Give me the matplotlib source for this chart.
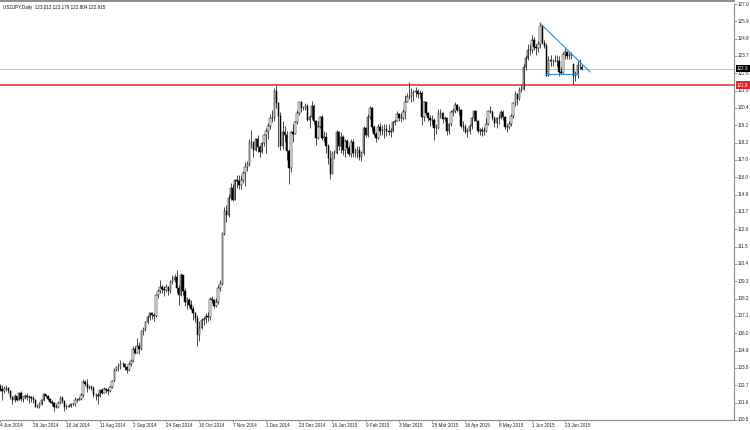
import matplotlib
matplotlib.use("Agg")
import matplotlib.pyplot as plt
import matplotlib.transforms as mtransforms
import numpy as np
import pandas as pd

# USDJPY daily bars, 4 Jun 2014 .. 3 Jul 2015 (broker has no bar on 25 Dec / 1 Jan)
opens = [
    # Jun 2014
    102.70, 102.45, 102.35, 102.45, 102.55, 102.35, 101.95, 101.75, 102.00, 101.80,
    102.20, 101.85, 101.95, 102.05, 101.95, 101.95, 101.90, 101.75, 101.35,
    # Jul 2014
    101.30, 101.55, 101.75, 102.15, 102.05, 101.85, 101.65, 101.60, 101.35, 101.35,
    101.60, 101.90, 101.70, 101.30, 101.35, 101.40, 101.50, 101.50, 101.80, 101.80,
    101.85, 102.10, 102.95,
    # Aug 2014
    102.80, 102.55, 102.60, 102.55, 102.10, 102.10, 102.00, 102.40, 102.25, 102.45,
    102.40, 102.35, 102.60, 103.00, 103.70, 103.85, 103.85, 104.05, 104.05, 103.85,
    103.70,
    # Sep 2014
    104.10, 104.25, 105.05, 104.80, 105.25, 105.05, 106.15, 106.30, 106.75, 107.10,
    107.35, 107.20, 107.15, 108.45, 108.70, 109.00, 108.85, 108.80, 109.00, 108.70,
    109.30, 109.45,
    # Oct 2014
    109.65, 108.90, 108.45, 109.75, 108.75, 108.05, 108.15, 107.85, 107.60, 107.35,
    107.00, 105.95, 106.35, 106.85, 106.95, 107.15, 107.05, 108.20, 108.15, 107.80,
    108.05, 108.95, 109.20,
    # Nov 2014
    112.35, 113.85, 113.55, 114.65, 115.30, 114.55, 115.80, 115.75, 115.50, 115.80,
    116.25, 116.65, 116.80, 118.20, 118.25, 117.75, 118.40, 117.90, 117.60, 118.15,
    # Dec 2014
    118.65, 118.90, 119.25, 119.75, 119.75, 121.45, 120.70, 119.90, 117.95, 118.85,
    118.70, 117.65, 116.60, 118.85, 118.75, 119.50, 120.10, 120.75, 120.40, 120.40,
    120.55, 119.65,
    # Jan 2015
    119.80, 120.50, 119.55, 118.50, 119.20, 119.80, 118.50, 118.55, 118.00, 117.20,
    116.20, 117.55, 117.50, 118.85, 117.95, 118.55, 117.75, 118.30, 117.85, 117.45,
    118.25,
    # Feb 2015
    117.50, 117.55, 117.70, 117.25, 117.50, 119.10, 118.65, 119.85, 120.40, 119.20,
    118.75, 118.50, 119.20, 118.90, 118.95, 119.05, 118.95, 118.85, 118.95, 119.50,
    # Mar 2015
    119.60, 120.00, 119.75, 119.75, 120.15, 120.80, 121.10, 121.15, 121.35, 121.40,
    121.45, 121.30, 121.35, 119.80, 120.75, 120.05, 119.75, 119.65, 119.65, 119.15,
    119.15, 120.10,
    # Apr 2015
    120.10, 119.70, 119.75, 118.95, 119.35, 120.15, 120.20, 120.60, 120.25, 120.30,
    119.25, 119.20, 118.85, 118.90, 119.25, 119.75, 120.20, 119.60, 118.95, 119.00,
    118.90, 118.90,
    # May 2015
    119.40, 120.20, 120.15, 119.75, 119.45, 119.75, 119.75, 120.15, 119.85, 119.20,
    119.20, 119.35, 119.90, 120.70, 121.30, 120.95, 121.55, 121.60, 123.00, 123.60,
    124.10,
    # Jun 2015
    124.10, 124.75, 124.30, 124.25, 124.50, 125.60, 124.55, 124.35, 122.45, 123.45,
    123.40, 123.40, 123.40, 123.40, 122.70, 122.65, 123.85, 123.95, 123.70, 123.80,
    123.20, 122.45,
    # Jul 2015
    122.50, 123.15, 123.012,
]
highs = [
    102.80, 102.75, 102.70, 102.75, 102.60, 102.40, 102.05, 102.15, 102.05, 102.30,
    102.35, 102.05, 102.15, 102.20, 102.10, 102.05, 102.00, 101.85, 101.55,
    101.65, 101.85, 102.25, 102.15, 102.10, 101.90, 101.75, 101.65, 101.50, 101.70,
    102.00, 102.05, 101.75, 101.55, 101.55, 101.60, 101.60, 101.95, 101.90, 101.95,
    102.20, 103.10, 103.05,
    103.10, 102.75, 102.75, 102.65, 102.25, 102.20, 102.50, 102.55, 102.60, 102.55,
    102.55, 102.70, 103.05, 103.80, 103.95, 104.15, 104.30, 104.20, 104.15, 103.95,
    104.20,
    104.40, 105.20, 105.20, 105.70, 105.45, 106.20, 106.40, 106.80, 107.20, 107.40,
    107.40, 107.30, 108.55, 108.85, 109.45, 109.10, 109.05, 109.15, 109.05, 109.40,
    109.75, 109.80,
    110.09, 109.10, 109.85, 109.20, 108.95, 108.35, 108.25, 108.15, 107.75, 107.40,
    107.20, 106.80, 107.00, 107.10, 107.35, 107.40, 108.35, 108.40, 108.20, 108.30,
    109.10, 109.45, 112.47,
    114.10, 114.20, 114.90, 115.60, 115.55, 115.90, 116.10, 116.10, 116.10, 116.40,
    116.95, 117.00, 118.40, 118.98, 118.30, 118.50, 118.65, 118.05, 118.20, 118.75,
    119.15, 119.45, 120.00, 120.25, 121.70, 121.85, 120.80, 120.15, 119.55, 119.25,
    118.95, 117.80, 118.95, 119.40, 119.60, 120.30, 120.80, 120.85, 120.55, 120.70,
    120.65, 119.95,
    120.83, 120.65, 119.65, 119.55, 119.90, 119.95, 118.90, 118.85, 118.10, 117.70,
    117.65, 117.70, 119.00, 118.95, 118.85, 118.65, 118.45, 118.40, 118.05, 118.45,
    118.40,
    117.85, 117.95, 117.95, 117.65, 119.25, 119.20, 120.00, 120.50, 120.45, 119.30,
    118.85, 119.40, 119.45, 119.30, 119.35, 119.35, 119.40, 119.15, 119.60, 119.70,
    120.20, 120.05, 120.05, 120.35, 121.25, 121.35, 122.03, 121.65, 121.55, 121.75,
    121.60, 121.55, 121.50, 120.85, 120.80, 120.15, 119.95, 119.95, 119.75, 119.35,
    120.35, 120.35,
    120.15, 119.90, 119.85, 119.45, 120.30, 120.40, 120.80, 120.65, 120.55, 120.35,
    119.60, 119.40, 119.15, 119.40, 119.85, 120.25, 120.30, 119.65, 119.15, 119.20,
    119.20, 119.75,
    120.25, 120.50, 120.30, 119.90, 119.80, 120.00, 120.30, 120.30, 119.90, 119.40,
    119.55, 120.00, 120.75, 121.50, 121.35, 121.75, 121.85, 123.20, 123.75, 124.45,
    124.45,
    125.05, 124.90, 124.45, 124.65, 125.86, 125.60, 124.75, 124.55, 123.70, 123.75,
    123.55, 123.80, 123.80, 123.70, 123.00, 123.95, 124.25, 124.05, 123.95, 124.00,
    123.20, 122.75,
    123.40, 123.50, 123.179,
]
lows = [
    102.35, 101.80, 102.25, 102.35, 102.25, 101.85, 101.55, 101.65, 101.70, 101.75,
    101.70, 101.65, 101.85, 101.80, 101.60, 101.65, 101.60, 101.30, 101.25,
    101.25, 101.45, 101.70, 101.95, 101.80, 101.60, 101.45, 101.10, 101.25, 101.25,
    101.55, 101.60, 101.10, 101.20, 101.30, 101.35, 101.40, 101.40, 101.65, 101.75,
    101.80, 101.95, 102.65,
    102.30, 102.45, 102.40, 101.95, 101.80, 101.50, 101.95, 102.15, 102.20, 102.25,
    102.10, 102.30, 102.55, 102.95, 103.60, 103.60, 103.75, 103.90, 103.70, 103.50,
    103.65,
    103.95, 104.20, 104.70, 104.80, 104.70, 104.95, 105.90, 106.15, 106.65, 106.90,
    106.95, 106.80, 107.10, 108.30, 108.60, 108.60, 108.40, 108.65, 108.50, 108.60,
    109.20, 109.30,
    108.60, 107.85, 108.40, 108.50, 107.80, 107.55, 107.70, 107.50, 106.90, 106.75,
    105.20, 105.55, 106.30, 106.55, 106.70, 106.80, 106.90, 107.95, 107.65, 107.70,
    107.90, 108.75, 109.10,
    112.30, 113.15, 113.45, 114.55, 114.45, 114.55, 115.30, 115.20, 115.20, 115.60,
    115.45, 116.40, 116.70, 117.85, 117.25, 117.65, 117.60, 117.25, 117.50, 117.95,
    117.50, 118.45, 119.05, 119.50, 119.55, 120.40, 117.90, 117.75, 117.80, 118.20,
    117.05, 115.57, 116.30, 118.25, 118.75, 119.40, 119.95, 120.15, 120.25, 120.25,
    119.55, 119.10,
    119.70, 119.40, 118.05, 118.40, 119.10, 118.35, 118.20, 117.50, 116.85, 115.85,
    116.30, 117.15, 117.45, 117.70, 117.55, 117.40, 117.30, 117.55, 117.35, 117.30,
    117.30,
    117.25, 117.20, 117.05, 117.00, 117.40, 118.55, 118.55, 119.70, 118.95, 118.60,
    118.20, 118.40, 118.70, 118.65, 118.50, 118.60, 118.70, 118.55, 118.85, 119.30,
    119.55, 119.60, 119.50, 119.65, 119.70, 120.75, 120.95, 120.80, 120.85, 121.10,
    121.05, 121.05, 119.30, 119.60, 119.95, 119.55, 119.25, 119.30, 118.33, 118.75,
    119.05, 119.75,
    119.45, 119.55, 118.70, 118.75, 119.25, 119.90, 120.05, 120.15, 119.95, 119.15,
    118.90, 118.80, 118.55, 118.75, 119.05, 119.60, 119.55, 118.80, 118.65, 118.60,
    118.65, 118.85,
    119.30, 120.05, 119.65, 119.20, 119.15, 119.35, 119.70, 119.65, 119.05, 118.85,
    119.05, 119.25, 119.75, 120.55, 120.60, 120.90, 121.40, 121.55, 122.85, 123.45,
    123.75,
    123.90, 124.10, 123.75, 124.00, 124.25, 124.50, 124.20, 122.45, 122.45, 123.05,
    123.10, 123.30, 123.05, 122.45, 122.55, 122.60, 123.55, 123.50, 123.55, 123.50,
    121.95, 122.15,
    122.30, 122.90, 122.804,
]
closes = [
    102.45, 102.35, 102.45, 102.55, 102.35, 101.95, 101.75, 102.00, 101.80, 102.20,
    101.85, 101.95, 102.05, 101.95, 101.95, 101.90, 101.75, 101.35, 101.30,
    101.55, 101.75, 102.15, 102.05, 101.85, 101.65, 101.60, 101.35, 101.35, 101.60,
    101.90, 101.70, 101.30, 101.35, 101.40, 101.50, 101.50, 101.80, 101.80, 101.85,
    102.10, 102.95, 102.80,
    102.55, 102.60, 102.55, 102.10, 102.10, 102.00, 102.40, 102.25, 102.45, 102.40,
    102.35, 102.60, 103.00, 103.70, 103.85, 103.85, 104.05, 104.05, 103.85, 103.70,
    104.10,
    104.25, 105.05, 104.80, 105.25, 105.05, 106.15, 106.30, 106.75, 107.10, 107.35,
    107.20, 107.15, 108.45, 108.70, 109.00, 108.85, 108.80, 109.00, 108.70, 109.30,
    109.45, 109.65,
    108.90, 108.45, 109.75, 108.75, 108.05, 108.15, 107.85, 107.60, 107.35, 107.00,
    105.95, 106.35, 106.85, 106.95, 107.15, 107.05, 108.20, 108.15, 107.80, 108.05,
    108.95, 109.20, 112.35,
    113.85, 113.55, 114.65, 115.30, 114.55, 115.80, 115.75, 115.50, 115.80, 116.25,
    116.65, 116.80, 118.20, 118.25, 117.75, 118.40, 117.90, 117.60, 118.15, 118.65,
    118.90, 119.25, 119.75, 119.75, 121.45, 120.70, 119.90, 117.95, 118.85, 118.70,
    117.65, 116.60, 118.85, 118.75, 119.50, 120.10, 120.75, 120.40, 120.40, 120.55,
    119.65, 119.80,
    120.50, 119.55, 118.50, 119.20, 119.80, 118.50, 118.55, 118.00, 117.20, 116.20,
    117.55, 117.50, 118.85, 117.95, 118.55, 117.75, 118.30, 117.85, 117.45, 118.25,
    117.50,
    117.55, 117.70, 117.25, 117.50, 119.10, 118.65, 119.85, 120.40, 119.20, 118.75,
    118.50, 119.20, 118.90, 118.95, 119.05, 118.95, 118.85, 118.95, 119.50, 119.60,
    120.00, 119.75, 119.75, 120.15, 120.80, 121.10, 121.15, 121.35, 121.40, 121.45,
    121.30, 121.35, 119.80, 120.75, 120.05, 119.75, 119.65, 119.65, 119.15, 119.15,
    120.10, 120.10,
    119.70, 119.75, 118.95, 119.35, 120.15, 120.20, 120.60, 120.25, 120.30, 119.25,
    119.20, 118.85, 118.90, 119.25, 119.75, 120.20, 119.60, 118.95, 119.00, 118.90,
    118.90, 119.40,
    120.20, 120.15, 119.75, 119.45, 119.75, 119.75, 120.15, 119.85, 119.20, 119.20,
    119.35, 119.90, 120.70, 121.30, 120.95, 121.55, 121.60, 123.00, 123.60, 124.10,
    124.10,
    124.75, 124.30, 124.25, 124.50, 125.60, 124.55, 124.35, 122.45, 123.45, 123.40,
    123.40, 123.40, 123.40, 122.70, 122.65, 123.85, 123.95, 123.70, 123.80, 123.85,
    122.45, 122.50,
    123.15, 123.15, 122.915,
]

# right price scale: positions and the part of each label that is visible
price_ticks = [127.030, 125.925, 124.819, 123.714, 122.609, 121.503, 120.398,
               119.293, 118.188, 117.082, 115.977, 114.872, 113.766, 112.661,
               111.556, 110.450, 109.345, 108.240, 107.134, 106.029, 104.924,
               103.819, 102.713, 101.608, 100.503]
price_labels = ["127.0", "125.9", "124.8", "123.7", "122.6", "121.5", "120.4",
                "119.2", "118.2", "117.0", "116.0", "114.9", "113.7", "112.6",
                "111.5", "110.4", "109.3", "108.2", "107.1", "106.0", "104.9",
                "103.8", "102.7", "101.6", "100.5"]

resistance = 121.850
last_price = 122.915
resistance_label = "121.8"
last_label = "122.9"
header = "USDJPY,Daily  123.012 123.179 122.804 122.915"

# hand drawn lines: (bar date, price); end of trend line is 4 bars past the last bar
trend_start = ("2015-06-05", 125.80)
trend_end_price = 122.70
support_dates = ("2015-06-10", "2015-07-01")
support_price = 122.55

dates = pd.bdate_range("2014-06-04", "2015-07-03")
dates = dates[~dates.isin(pd.to_datetime(["2014-12-25", "2015-01-01"]))]
x = np.arange(len(dates))

o = np.array(opens)
h = np.array(highs)
l = np.array(lows)
c = np.array(closes)

FS = 3.3
plt.rcParams['font.family'] = ['Liberation Sans', 'DejaVu Sans']

fig = plt.figure(figsize=(7.5, 4.3), dpi=100)
# plot area: x 0..734 px, y 4..420 px
ax = fig.add_axes([0, 1 - 420 / 430, 734 / 750, 416 / 430])

# candles: white body up, black body down
ax.vlines(x, l, h, color='black', linewidth=0.5, zorder=3)
up = c >= o
ax.bar(x, np.abs(c - o), bottom=np.minimum(o, c), width=0.7,
       color=np.where(up, 'white', 'black'), edgecolor='black',
       linewidth=0.35, zorder=4)

ax.axhline(last_price, color='#c0c0c0', linewidth=0.7, zorder=1)
ax.axhline(resistance, color='#e4262b', linewidth=1.1, zorder=2)

i0 = dates.get_loc(pd.Timestamp(trend_start[0]))
ax.plot([i0, x[-1] + 4], [trend_start[1], trend_end_price],
        color='#2b8fe0', linewidth=0.8, zorder=5)
s0 = dates.get_loc(pd.Timestamp(support_dates[0]))
s1 = dates.get_loc(pd.Timestamp(support_dates[1]))
ax.plot([s0, s1], [support_price, support_price],
        color='#2b8fe0', linewidth=0.8, zorder=5)

ax.set_xlim(2.12, 353.3)
ax.set_ylim(100.50, 127.03)

# date axis: a label every 16 bars
tick_idx = x[::16]
tick_lab = [f"{d.day} {d.strftime('%b %Y')}" for d in dates[tick_idx]]
ax.set_xticks(tick_idx)
ax.set_xticklabels(tick_lab, ha='left', fontsize=FS, color='#222222')
ax.tick_params(axis='x', length=1.5, width=0.5, pad=0.8, colors='#777777',
               labelcolor='#222222')

ax.yaxis.tick_right()
ax.set_yticks(price_ticks)
ax.set_yticklabels(price_labels, fontsize=FS, color='#222222', va='center')
ax.tick_params(axis='y', length=2.0, width=0.5, pad=0.6, colors='#777777',
               labelcolor='#222222')

ax.spines['left'].set_visible(False)
ax.spines['top'].set_visible(False)
for side in ['right', 'bottom']:
    ax.spines[side].set_color('#8c8c8c')
    ax.spines[side].set_linewidth(0.8)

# window border along the top
fig.add_artist(plt.Line2D([0, 734 / 750], [1 - 1.2 / 430, 1 - 1.2 / 430],
                          color='#8c8c8c', linewidth=1.4))

# price markers on the scale
trans = mtransforms.blended_transform_factory(ax.transAxes, ax.transData)
ax.text(1.004, last_price, last_label, transform=trans, fontsize=FS,
        color='white', va='center', ha='left', clip_on=False, zorder=10,
        bbox=dict(boxstyle='square,pad=0.3', fc='black', ec='none'))
ax.text(1.004, resistance, resistance_label, transform=trans, fontsize=FS,
        color='white', va='center', ha='left', clip_on=False, zorder=10,
        bbox=dict(boxstyle='square,pad=0.3', fc='#e4262b', ec='none'))

fig.text(3 / 750, 1 - 8 / 430, header, fontsize=FS, color='#111111',
         va='center', ha='left')

fig.savefig("out.png", dpi=100, facecolor='white')
